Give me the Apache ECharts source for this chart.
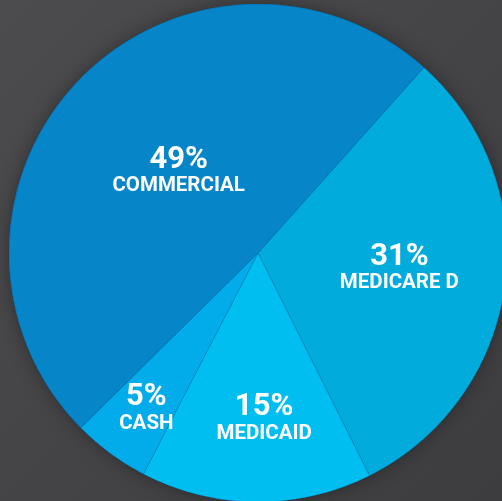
<!DOCTYPE html>
<html>
<head>
<meta charset="utf-8">
<script src="https://cdn.jsdelivr.net/npm/echarts@6/dist/echarts.min.js"></script>
<style>html,body{margin:0;padding:0;}#c{width:502px;height:501px;}</style>
</head>
<body>
<div id="c"></div>
<script>
const categories = ['MEDICARE D', 'MEDICAID', 'CASH', 'COMMERCIAL'];
const shares = [31, 15, 5, 49];
const colors = ['#01ABDC', '#00BEF0', '#02ACEA', '#0685C8'];
const labelOffsets = [[15, -2], [7, 38], [-36, 53], [13, 6]];

const chart = echarts.init(document.getElementById('c'));
chart.setOption({
  backgroundColor: {
    type: 'linear', x: 0, y: 0, x2: 1, y2: 1,
    colorStops: [{offset: 0, color: '#4c4c4e'}, {offset: 1, color: '#3d3d3f'}]
  },
  animation: false,
  series: [
    {
      type: 'pie', silent: true, z: 1,
      center: [258, 253], radius: 249,
      label: {show: false}, labelLine: {show: false},
      itemStyle: {color: '#0685C8', shadowBlur: 18, shadowColor: 'rgba(0,0,0,0.35)'},
      data: [{value: 1}]
    },
    {
      type: 'pie', z: 2,
      center: [258, 253], radius: 249,
      startAngle: 48.2, clockwise: true,
      itemStyle: {borderColor: 'rgba(0,60,100,0.35)', borderWidth: 0.6},
      label: {
        show: true, position: 'inside',
        formatter: p => '{p|' + p.value + '%}\n{n|' + p.name + '}',
        rich: {
          p: {fontFamily: 'Roboto', fontWeight: 'bold', fontSize: 31, color: '#fff', lineHeight: 30, align: 'center'},
          n: {fontFamily: 'Roboto', fontWeight: 'bold', fontSize: 20.5, color: '#fff', lineHeight: 22, align: 'center'}
        }
      },
      labelLine: {show: false},
      emphasis: {disabled: true},
      data: categories.map((c, i) => ({
        name: c, value: shares[i],
        itemStyle: {color: colors[i]},
        label: {offset: labelOffsets[i]}
      }))
    }
  ]
});
</script>
</body>
</html>
